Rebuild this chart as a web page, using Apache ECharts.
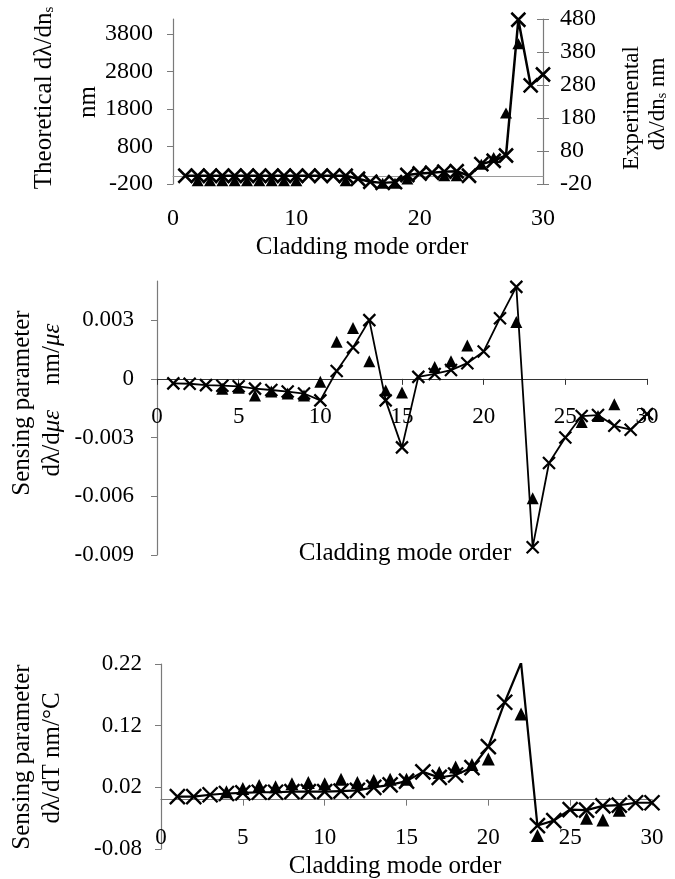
<!DOCTYPE html>
<html>
<head>
<meta charset="utf-8">
<script src="https://cdn.jsdelivr.net/npm/echarts@6/dist/echarts.min.js"></script>
<style>
  html, body { margin: 0; padding: 0; background: #fff; }
  #chart { width: 675px; height: 879px; }
</style>
</head>
<body>
<div id="chart"></div>
<script>
// cladding mode order (x for every theoretical curve)
const modes = [1, 2, 3, 4, 5, 6, 7, 8, 9, 10, 11, 12, 13, 14, 15,
  16, 17, 18, 19, 20, 21, 22, 23, 24, 25, 26, 27, 28, 29, 30]

// top: dλ/dn_s, theoretical on left axis, experimental on right axis
const ridxTheory = [20, 20, 20, 20, 20, 20, 20, 20, 20, 20, 20, 20, 20, 20, -60,
  -140, -170, -150, 40, 80, 100, 130, 140, 20, 330, 420, 560, 4180, 2430, 2720]
const ridxExpModes = [2, 3, 4, 5, 6, 7, 8, 9, 10, 14, 17, 18, 19, 22, 23, 25, 26, 27, 28]
const ridxExp = [-10, -10, -10, -10, -10, -10, -10, -10, -10, -10, -18, -18, -5, 5, 5, 40, 60, 195, 405]
const ridxLeftTicks = [-200, 800, 1800, 2800, 3800]
const ridxRightTicks = [-20, 80, 180, 280, 380, 480]

// middle: strain sensing parameter
const strainTheory = [-0.00023, -0.00025, -0.00032, -0.00035, -0.00038, -0.0005, -0.00057, -0.00065, -0.00075, -0.0011,
  0.0004, 0.0016, 0.003, -0.0011, -0.0035, 0.0001, 0.00025, 0.00045, 0.0008, 0.0014,
  0.0031, 0.0047, -0.0086, -0.0043, -0.003, -0.0019, -0.00185, -0.0024, -0.0026, -0.0018]
const strainExpModes = [4, 5, 6, 7, 8, 9, 10, 11, 12, 13, 14, 15, 17, 18, 19, 22, 23, 26, 27, 28]
const strainExp = [-0.0005, -0.00045, -0.00085, -0.00065, -0.00075, -0.00085, -0.00015, 0.0019, 0.0026, 0.0009,
  -0.0006, -0.0007, 0.0006, 0.0009, 0.0017, 0.0029, -0.0061, -0.0022, -0.0019, -0.0013]
const strainTicks = [-0.009, -0.006, -0.003, 0, 0.003]

// bottom: temperature sensing parameter
const tempTheory = [0.005, 0.005, 0.008, 0.01, 0.011, 0.012, 0.012, 0.013, 0.013, 0.013,
  0.014, 0.015, 0.02, 0.024, 0.03, 0.045, 0.036, 0.04, 0.052, 0.086,
  0.158, 0.222, -0.042, -0.034, -0.016, -0.017, -0.01, -0.009, -0.005, -0.005]
const tempExpModes = [4, 5, 6, 7, 8, 9, 10, 11, 12, 13, 14, 15, 17, 18, 19, 20, 22, 23, 26, 27, 28]
const tempExp = [0.013, 0.018, 0.023, 0.021, 0.026, 0.028, 0.026, 0.033, 0.028, 0.031, 0.033,
  0.033, 0.044, 0.053, 0.057, 0.066, 0.139, -0.058, -0.03, -0.033, -0.017]
const tempTicks = [-0.08, 0.02, 0.12, 0.22]

const FONT = 'Liberation Serif'
const AXIS_GREY = '#7a7a7a'
const crossPath = 'path://M0,0L10,10M10,0L0,10'

const grids = [
  { left: 173, top: 19, width: 370, height: 165 },
  { left: 157, top: 281, width: 490, height: 274 },
  { left: 161, top: 664, width: 491, height: 185 }
]

const pairs = (xs, ys) => xs.map((x, i) => [x, ys[i]])

// lift an x axis from the grid bottom up to where y = 0 sits
const zeroOffset = (grid, min, max) => -grid.height * (0 - min) / (max - min)

const xAxisOf = (grid, interval, opts) => ({
  type: 'value',
  gridIndex: grid,
  min: 0,
  max: 30,
  interval: interval,
  offset: opts.offset || 0,
  splitLine: { show: false },
  axisLine: {
    onZero: opts.onZero,
    onZeroAxisIndex: 0,
    lineStyle: { color: opts.lineColor, width: 1.2 }
  },
  axisTick: { show: opts.ticks, length: 6, lineStyle: { color: opts.lineColor } },
  axisLabel: { margin: opts.margin, color: '#000', fontFamily: FONT, fontSize: opts.fontSize }
})

const yAxisOf = (grid, min, max, ticks, opts) => ({
  type: 'value',
  gridIndex: grid,
  position: opts.position || 'left',
  min: min,
  max: max,
  splitLine: { show: false },
  axisLine: { show: opts.line !== false, onZero: false, lineStyle: { color: AXIS_GREY, width: 1.2 } },
  axisTick: {
    show: true,
    inside: !!opts.inside,
    length: 6,
    customValues: ticks,
    lineStyle: { color: AXIS_GREY }
  },
  axisLabel: {
    show: opts.labels !== false,
    customValues: ticks,
    margin: opts.margin,
    color: '#000',
    fontFamily: FONT,
    fontSize: opts.fontSize,
    formatter: (v) => String(v)
  }
})

const crossLine = (xi, yi, data, size, lineW, strokeW) => ({
  type: 'line',
  xAxisIndex: xi,
  yAxisIndex: yi,
  data: data,
  symbol: crossPath,
  symbolSize: size,
  symbolKeepAspect: true,
  lineStyle: { color: '#000', width: lineW },
  itemStyle: { color: '#000', borderColor: '#000', borderWidth: strokeW, opacity: 1 },
  z: 3
})

const triangles = (xi, yi, data, size) => ({
  type: 'scatter',
  xAxisIndex: xi,
  yAxisIndex: yi,
  data: data,
  symbol: 'triangle',
  symbolSize: size,
  itemStyle: { color: '#000', opacity: 1 },
  z: 4
})

const textStyle = (size) => ({
  fontFamily: FONT,
  fontSize: size,
  fill: '#000',
  align: 'center',
  verticalAlign: 'middle',
  rich: {
    s: { fontFamily: FONT, fontSize: Math.round(size * 0.6), verticalAlign: 'bottom', lineHeight: 14 },
    it: { fontFamily: FONT, fontSize: size, fontStyle: 'italic' }
  }
})

const label = (x, y, text, vertical, size) => ({
  type: 'text',
  x: x,
  y: y,
  rotation: vertical ? Math.PI / 2 : 0,
  style: Object.assign({ text: text }, textStyle(size || 25))
})

const chart = echarts.init(document.getElementById('chart'))

const option = {
  animation: false,
  backgroundColor: '#fff',
  grid: grids.map((g) => Object.assign({ outerBoundsMode: 'none' }, g)),
  xAxis: [
    xAxisOf(0, 10, { onZero: true, lineColor: '#9a9a9a', ticks: false, margin: 23, fontSize: 24 }),
    xAxisOf(1, 5, {
      onZero: false, offset: zeroOffset(grids[1], -0.009, 0.005),
      lineColor: '#333', ticks: true, margin: 27, fontSize: 23
    }),
    xAxisOf(2, 5, {
      onZero: false, offset: zeroOffset(grids[2], -0.08, 0.22),
      lineColor: '#777', ticks: true, margin: 27, fontSize: 23
    })
  ],
  yAxis: [
    yAxisOf(0, -200, 4200, ridxLeftTicks, { margin: 20, fontSize: 24 }),
    yAxisOf(0, -20, 480, ridxRightTicks, { position: 'right', margin: 17, fontSize: 24 }),
    yAxisOf(0, -20, 480, ridxRightTicks, { position: 'right', inside: true, line: false, labels: false }),
    yAxisOf(1, -0.009, 0.005, strainTicks, { margin: 23, fontSize: 23 }),
    yAxisOf(2, -0.08, 0.22, tempTicks, { margin: 19, fontSize: 23 })
  ],
  series: [
    crossLine(0, 0, pairs(modes, ridxTheory), 14, 2.5, 2.5),
    triangles(0, 1, pairs(ridxExpModes, ridxExp), [12, 11]),
    crossLine(1, 3, pairs(modes, strainTheory), 12, 1.8, 2.2),
    triangles(1, 3, pairs(strainExpModes, strainExp), [12, 12]),
    crossLine(2, 4, pairs(modes, tempTheory), 15, 2.2, 2.4),
    triangles(2, 4, pairs(tempExpModes, tempExp), [13, 13])
  ],
  graphic: [
    // top panel titles
    label(44, 98, 'Theoretical dλ/dn{s|s}', true),
    label(88, 102, 'nm', true),
    label(632, 108, 'Experimental', true, 23),
    label(658, 104, 'dλ/dn{s|s} nm', true, 23),
    label(362, 247, 'Cladding mode order'),
    // middle panel titles
    label(22, 403, 'Sensing parameter', true),
    label(52, 400, 'dλ/d{it|με}    nm/{it|με}', true),
    label(405, 553, 'Cladding mode order'),
    // bottom panel titles
    label(22, 757, 'Sensing parameter', true),
    label(52, 758, 'dλ/dT nm/°C', true),
    label(395, 866, 'Cladding mode order')
  ]
}

chart.setOption(option)
</script>
</body>
</html>
